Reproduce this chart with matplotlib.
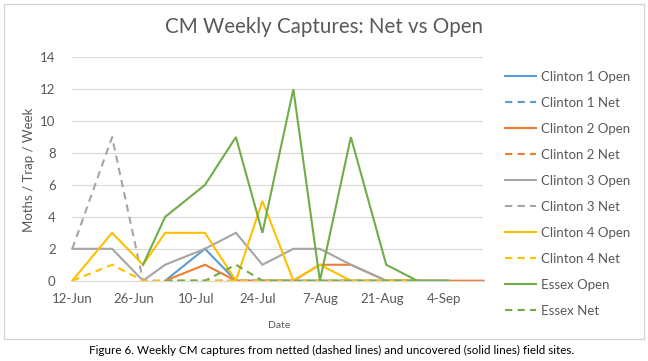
import datetime as dt
import matplotlib
matplotlib.use('Agg')
import matplotlib.pyplot as plt
from matplotlib.patches import Rectangle

plt.rcParams['font.family'] = ['Lato', 'DejaVu Sans']

# sampling dates
dates = [dt.date(2019, m, d) for m, d in
         [(6, 12), (6, 21), (6, 28), (7, 3), (7, 12), (7, 19), (7, 25),
          (8, 1), (8, 7), (8, 14), (8, 22), (8, 29), (9, 5), (9, 13)]]

# weekly captures, None = no reading
clinton1_open = [None, None, None, 0, 2, 0, 0, 0, 0, 0, 0, 0, 0, None]
clinton1_net  = [None, None, None, 0, 0, 0, 0, 0, 0, 0, 0, 0, 0, None]
clinton2_open = [None, None, None, 0, 1, 0, 0, 0, 1, 1, 0, 0, 0, 0]
clinton2_net  = [None, None, None, 0, 0, 0, 0, 0, 0, 0, 0, 0, None, None]
clinton3_open = [2, 2, 0, 1, 2, 3, 1, 2, 2, 1, 0, 0, None, None]
clinton3_net  = [2, 9, 0, 0, 0, 0, 0, 0, 0, 0, 0, 0, None, None]
clinton4_open = [0, 3, 1, 3, 3, 0, 5, 0, 1, 0, 0, 0, None, None]
clinton4_net  = [0, 1, 0, 0, 0, 0, 0, 0, 0, 0, 0, 0, None, None]
essex_open    = [None, None, 1, 4, 6, 9, 3, 12, 0, 9, 1, 0, 0, None]
essex_net     = [None, None, None, 0, 0, 1, 0, 0, 0, 0, 0, 0, None, None]

series = [
    ('Clinton 1 Open', clinton1_open, '#5B9BD5', '-'),
    ('Clinton 1 Net', clinton1_net, '#5B9BD5', '--'),
    ('Clinton 2 Open', clinton2_open, '#ED7D31', '-'),
    ('Clinton 2 Net', clinton2_net, '#ED7D31', '--'),
    ('Clinton 3 Open', clinton3_open, '#A5A5A5', '-'),
    ('Clinton 3 Net', clinton3_net, '#A5A5A5', '--'),
    ('Clinton 4 Open', clinton4_open, '#FFC000', '-'),
    ('Clinton 4 Net', clinton4_net, '#FFC000', '--'),
    ('Essex Open', essex_open, '#70AD47', '-'),
    ('Essex Net', essex_net, '#70AD47', '--'),
]

W, H = 648, 361
fig = plt.figure(figsize=(W / 100, H / 100), dpi=100)

# chart border
fig.patches.append(Rectangle((4 / W, 1 - 339 / H), 640 / W, 335 / H,
                             transform=fig.transFigure, fill=False,
                             edgecolor='#D0D0D0', lw=0.8))

ax = fig.add_axes([72.3 / W, 1 - 280.7 / H, (483.5 - 72.3) / W, (280.7 - 57.3) / H])

handles = []
for name, vals, col, ls in series:
    xs = [d for d, v in zip(dates, vals) if v is not None]
    ys = [v for v in vals if v is not None]
    style = (0, (3.5, 2.5)) if ls == '--' else '-'
    h, = ax.plot(xs, ys, color=col, lw=1.5, linestyle=style, label=name,
                 solid_joinstyle='miter', clip_on=False)
    handles.append(h)

ax.set_ylim(0, 14)
ax.set_yticks(range(0, 15, 2))
ax.set_xlim(dates[0], dates[-1])
ticks = [dt.date(2019, 6, 12) + dt.timedelta(days=14 * i) for i in range(7)]
ax.set_xticks(ticks)
ax.set_xticklabels([f'{t.day}-{t.strftime("%b")}' for t in ticks])
ax.grid(axis='y', color='#D9D9D9', lw=0.8)
ax.set_axisbelow(True)
for s in ['top', 'right', 'left']:
    ax.spines[s].set_visible(False)
ax.spines['bottom'].set_color('#D9D9D9')
ax.spines['bottom'].set_linewidth(0.8)
ax.tick_params(axis='both', length=0, labelsize=9.5, labelcolor='#595959')
ax.tick_params(axis='y', pad=12)
ax.tick_params(axis='x', pad=9)

fig.text(324 / W, 1 - 27 / H, 'CM Weekly Captures: Net vs Open', ha='center',
         va='center', fontsize=14.8, color='#595959')
fig.text(29 / W, 1 - 170 / H, 'Moths / Trap / Week', rotation=90, ha='center',
         va='center', fontsize=9.5, color='#595959')
fig.text(279 / W, 1 - 325 / H, 'Date', ha='center', va='center',
         fontsize=7.5, color='#595959')
fig.text(332 / W, 1 - 350 / H,
         'Figure 6. Weekly CM captures from netted (dashed lines) and uncovered (solid lines) field sites.',
         ha='center', va='center', fontsize=8.4, color='black')

leg = fig.legend(handles=handles, loc='upper left',
                 bbox_to_anchor=(505 / W, 1 - 71 / H), frameon=False,
                 fontsize=9.5, labelspacing=1.06, handlelength=2.35,
                 handletextpad=0.36, borderpad=0, borderaxespad=0)
for t in leg.get_texts():
    t.set_color('#595959')

fig.savefig('out.png', dpi=100)
